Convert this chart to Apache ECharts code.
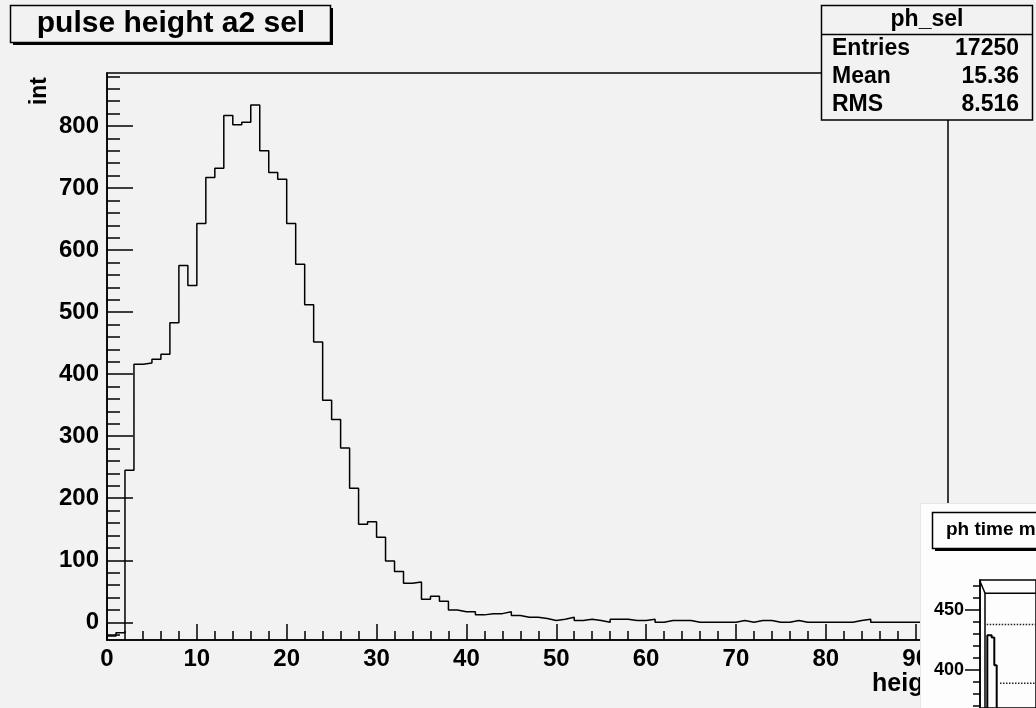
<!DOCTYPE html>
<html><head><meta charset="utf-8">
<script src="https://cdn.jsdelivr.net/npm/echarts@6/dist/echarts.min.js"></script>
<style>html,body{margin:0;padding:0;background:#f2f2f2}#c{width:1036px;height:708px}</style>
</head><body><div id="c"></div>
<script>
// ---- data ----
const binCounts = [-22,-17,245,416,418,424,432,483,575,543,
  643,717,732,817,802,806,834,760,725,714,
  643,577,512,452,358,327,281,216,158,162,
  137,99,82,63,65,37,42,34,20,17,
  17,12,14,14,17,11,8,8,6,3,
  5,8,3,5,3,0,5,5,3,3,
  5,0,3,3,3,0,0,0,0,0,
  3,0,3,3,0,0,3,0,0,0,
  0,0,0,3,5,0,0,0,0,0,
  0,0,0,0];
const xMajorTicks = [0,10,20,30,40,50,60,70,80,90];
const xMinorTicks = [2,4,6,8,12,14,16,18,22,24,26,28,32,34,36,38,42,44,46,48,52,54,56,58,62,64,66,68,72,74,76,78,82,84,86,88,92];
const yMajorTicks = [0,100,200,300,400,500,600,700,800];
const yMinorTicks = [-20,20,40,60,80,120,140,160,180,220,240,260,280,320,340,360,380,420,440,460,480,520,540,560,580,620,640,660,680,720,740,760,780,820,840,860,880];
const chartTitle = 'pulse height a2 sel';
const statsName = 'ph_sel';
const statsLabels = ['Entries','Mean','RMS'];
const statsValues = ['17250','15.36','8.516'];
const xTitle = 'height';
const yTitle = 'int';
// inset (partly visible second pad)
const insetTitle = 'ph time m';
const insetYTicks = [400,450];
const insetYMinor = [370,380,390,410,420,430,440,460,470];
const insetOutline = [[0,474],[4,466],[5,464],[56,464]];
const insetInner = [[5,368],[5,464]];
const insetBars = [[7.3,368],[7.3,429],[11.7,427],[14.3,404],[16.7,368]];
const insetFitA = [[6.7,438],[56,438]];
const insetFitB = [[20,389],[56,389]];

const X_MAX = 93.6, Y_MIN = -28.5, Y_MAX = 885.4;
const INSET_YMIN = 368.3, INSET_YMAX = 475, INSET_XMAX = 56;
const FONT = '"Liberation Sans", Arial, sans-serif';
const histData = binCounts.map((v, i) => [i, v]);
histData.push([X_MAX, binCounts[binCounts.length - 1]]);

const chart = echarts.init(document.getElementById('c'), null, {renderer: 'canvas'});
const lab = (size) => ({fontFamily: FONT, fontWeight: 'bold', fontSize: size, color: '#000'});
const blk = {color: '#000', width: 1.5};

const option = {
  backgroundColor: '#f2f2f2',
  animation: false,
  textStyle: {fontFamily: FONT},
  grid: [
    {left: 107, top: 73, width: 841, height: 567, show: true, borderColor: '#000', borderWidth: 1.5, backgroundColor: 'transparent', containLabel: false},
    {left: 980, top: 580, width: 56, height: 128, show: true, borderColor: '#000', borderWidth: 1.5, backgroundColor: 'transparent', z: 110}
  ],
  xAxis: [
    {gridIndex: 0, type: 'value', min: 0, max: X_MAX, position: 'bottom',
      axisLine: {show: true, onZero: false, lineStyle: blk},
      axisTick: {show: true, inside: true, length: 16, customValues: xMajorTicks, lineStyle: blk},
      axisLabel: Object.assign({show: true, margin: 7, customValues: xMajorTicks}, lab(24)),
      splitLine: {show: false}},
    {gridIndex: 0, type: 'value', min: 0, max: X_MAX, position: 'bottom',
      axisLine: {show: false, onZero: false},
      axisTick: {show: true, inside: true, length: 9, customValues: xMinorTicks, lineStyle: blk},
      axisLabel: {show: false}, splitLine: {show: false}},
    {gridIndex: 1, type: 'value', min: 0, max: INSET_XMAX, z: 110,
      axisLine: {show: false, onZero: false}, axisTick: {show: false}, axisLabel: {show: false}, splitLine: {show: false}}
  ],
  yAxis: [
    {gridIndex: 0, type: 'value', min: Y_MIN, max: Y_MAX, position: 'left',
      axisLine: {show: true, onZero: false, lineStyle: blk},
      axisTick: {show: true, inside: true, length: 26, customValues: yMajorTicks, lineStyle: blk},
      axisLabel: Object.assign({show: true, margin: 8, customValues: yMajorTicks}, lab(24)),
      splitLine: {show: false}},
    {gridIndex: 0, type: 'value', min: Y_MIN, max: Y_MAX, position: 'left',
      axisLine: {show: false, onZero: false},
      axisTick: {show: true, inside: true, length: 13, customValues: yMinorTicks, lineStyle: blk},
      axisLabel: {show: false}, splitLine: {show: false}},
    {gridIndex: 1, type: 'value', min: INSET_YMIN, max: INSET_YMAX, position: 'left', z: 110,
      axisLine: {show: true, onZero: false, lineStyle: blk},
      axisTick: {show: true, inside: false, length: 15, customValues: insetYTicks, lineStyle: blk},
      axisLabel: Object.assign({show: true, margin: 16, customValues: insetYTicks}, lab(18)),
      splitLine: {show: false}},
    {gridIndex: 1, type: 'value', min: INSET_YMIN, max: INSET_YMAX, position: 'left', z: 110,
      axisLine: {show: false, onZero: false},
      axisTick: {show: true, inside: false, length: 7, customValues: insetYMinor, lineStyle: blk},
      axisLabel: {show: false}, splitLine: {show: false}}
  ],
  series: [
    {type: 'line', name: 'ph_sel', xAxisIndex: 0, yAxisIndex: 0, data: histData, step: 'end',
      symbol: 'none', lineStyle: {color: '#000', width: 1.5}, silent: true},
    {type: 'line', xAxisIndex: 2, yAxisIndex: 2, data: insetOutline, symbol: 'none', z: 112,
      lineStyle: {color: '#000', width: 1.5}, silent: true},
    {type: 'line', xAxisIndex: 2, yAxisIndex: 2, data: insetInner, symbol: 'none', z: 112,
      lineStyle: {color: '#000', width: 1.5}, silent: true},
    {type: 'line', xAxisIndex: 2, yAxisIndex: 2, data: insetBars, step: 'end', symbol: 'none', z: 112,
      lineStyle: {color: '#000', width: 2}, silent: true},
    {type: 'line', xAxisIndex: 2, yAxisIndex: 2, data: insetFitA, symbol: 'none', z: 112,
      lineStyle: {color: '#222', width: 1.5, type: 'dotted'}, silent: true},
    {type: 'line', xAxisIndex: 2, yAxisIndex: 2, data: insetFitB, symbol: 'none', z: 112,
      lineStyle: {color: '#222', width: 1.5, type: 'dotted'}, silent: true}
  ],
  graphic: {elements: [
    // title box
    {type: 'rect', z: 100, shape: {x: 13, y: 8, width: 320, height: 37}, style: {fill: '#000'}},
    {type: 'rect', z: 101, shape: {x: 10.5, y: 5.5, width: 320, height: 37}, style: {fill: '#f2f2f2', stroke: '#000', lineWidth: 1.5}},
    {type: 'text', z: 102, x: 171, y: 24, style: {text: chartTitle, font: 'bold 30px ' + FONT, fill: '#000', align: 'center', verticalAlign: 'middle'}},
    // stats box
    {type: 'rect', z: 100, shape: {x: 821.5, y: 5.5, width: 211, height: 114.5}, style: {fill: '#f2f2f2', stroke: '#000', lineWidth: 1.5}},
    {type: 'line', z: 101, shape: {x1: 821.5, y1: 34.5, x2: 1032.5, y2: 34.5}, style: {stroke: '#000', lineWidth: 1.5}},
    {type: 'text', z: 102, x: 927, y: 20, style: {text: statsName, font: 'bold 23px ' + FONT, fill: '#000', align: 'center', verticalAlign: 'middle'}},
    ...statsLabels.map((t, i) => ({type: 'text', z: 102, x: 832, y: 49 + 28 * i, style: {text: t, font: 'bold 23px ' + FONT, fill: '#000', align: 'left', verticalAlign: 'middle'}})),
    ...statsValues.map((t, i) => ({type: 'text', z: 102, x: 1019, y: 49 + 28 * i, style: {text: t, font: 'bold 23px ' + FONT, fill: '#000', align: 'right', verticalAlign: 'middle'}})),
    // axis titles
    {type: 'text', z: 50, x: 40, y: 77, rotation: Math.PI / 2, style: {text: yTitle, font: 'bold 23px ' + FONT, fill: '#000', align: 'right', verticalAlign: 'middle'}},
    {type: 'text', z: 50, x: 947, y: 684, style: {text: xTitle, font: 'bold 25px ' + FONT, fill: '#000', align: 'right', verticalAlign: 'middle'}},
    // inset pad
    {type: 'rect', z: 105, shape: {x: 920.5, y: 503.5, width: 130, height: 220}, style: {fill: '#fdfdfd', stroke: '#e6e6e6', lineWidth: 1}},
    {type: 'rect', z: 106, shape: {x: 935, y: 515, width: 120, height: 36}, style: {fill: '#000'}},
    {type: 'rect', z: 107, shape: {x: 932.5, y: 512.5, width: 120, height: 36}, style: {fill: '#fdfdfd', stroke: '#000', lineWidth: 1.5}},
    {type: 'text', z: 108, x: 946, y: 530, style: {text: insetTitle, font: 'bold 19px ' + FONT, fill: '#000', align: 'left', verticalAlign: 'middle'}}
  ]}
};
chart.setOption(option);
</script>
</body></html>
